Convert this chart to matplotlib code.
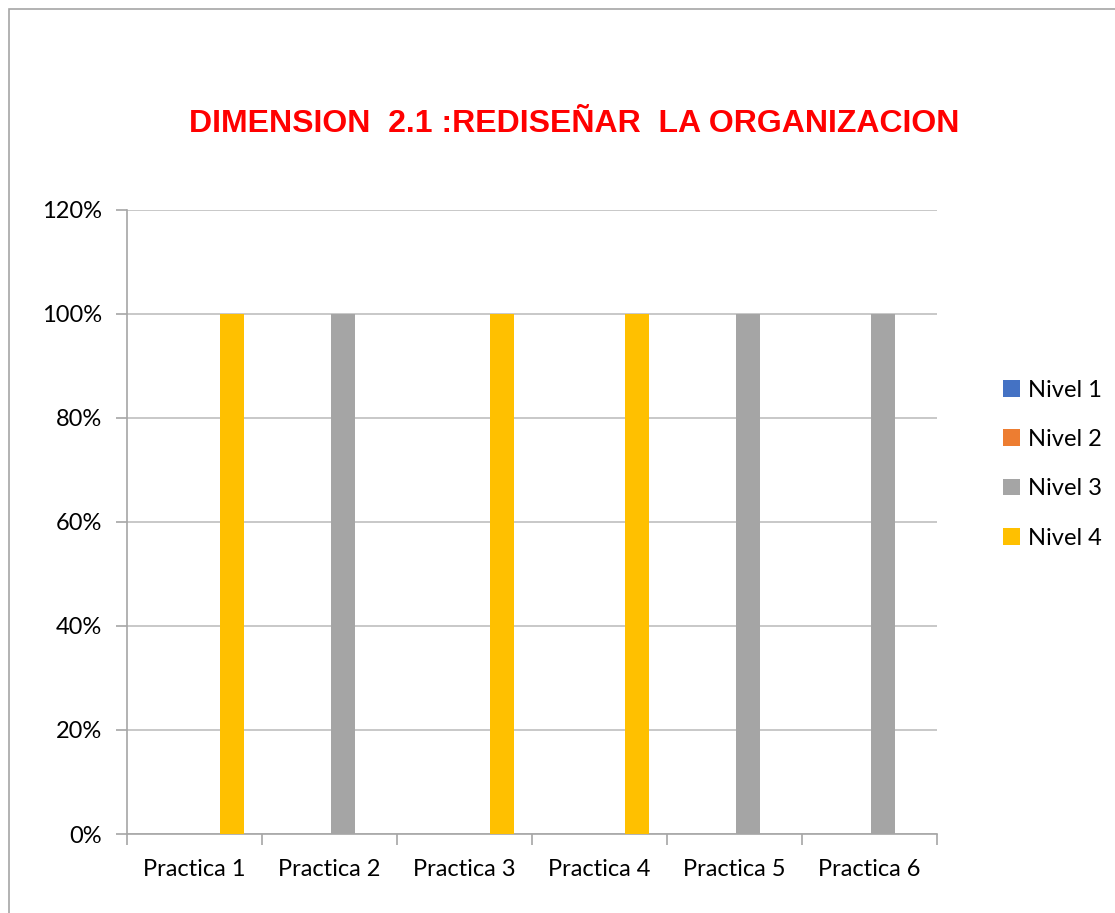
import numpy as np
import matplotlib.pyplot as plt
from matplotlib.patches import Rectangle
from matplotlib.ticker import FixedLocator

categories = ['Practica 1', 'Practica 2', 'Practica 3', 'Practica 4', 'Practica 5', 'Practica 6']
series = ['Nivel 1', 'Nivel 2', 'Nivel 3', 'Nivel 4']
nivel1 = [0, 0, 0, 0, 0, 0]
nivel2 = [0, 0, 0, 0, 0, 0]
nivel3 = [0, 1, 0, 0, 1, 1]
nivel4 = [1, 0, 1, 1, 0, 0]
yticks = [0, 0.2, 0.4, 0.6, 0.8, 1.0, 1.2]
ylabels = ['0%', '20%', '40%', '60%', '80%', '100%', '120%']
colors = ['#4472C4', '#ED7D31', '#A5A5A5', '#FFC000']

plt.rcParams['font.family'] = ['Lato', 'DejaVu Sans']

fig = plt.figure(figsize=(11.15, 9.13), dpi=100)
fig.patches.append(Rectangle((9/1115, -0.1), 1.2, 1 - 9/913 + 0.1, transform=fig.transFigure,
                             fill=False, edgecolor='#A6A6A6', linewidth=1.2))
ax = fig.add_axes([127/1115, 1 - 834/913, 810/1115, 624/913])

x = np.arange(len(categories))
w = 0.178
values = [nivel1, nivel2, nivel3, nivel4]
for i, (name, vals) in enumerate(zip(series, values)):
    ax.bar(x + (i - 1.5) * w + 0.01, vals, w, color=colors[i], label=name, zorder=3)

ax.set_xlim(-0.5, len(categories) - 0.5)
ax.set_ylim(0, 1.2)
ax.set_yticks(yticks)
ax.set_yticklabels(ylabels, fontsize=17)
ax.set_xticks(x)
ax.set_xticklabels(categories, fontsize=17)
ax.xaxis.set_minor_locator(FixedLocator(np.arange(-0.5, len(categories), 1)))
ax.tick_params(axis='x', which='major', length=0, pad=18)
ax.tick_params(axis='x', which='minor', length=8, color='#A6A6A6', width=1.2)
ax.tick_params(axis='y', length=8, color='#A6A6A6', width=1.2, pad=10)
ax.grid(axis='y', color='#BFBFBF', linewidth=1.2, zorder=0)
for s in ['top', 'right']:
    ax.spines[s].set_visible(False)
for s in ['left', 'bottom']:
    ax.spines[s].set_color('#A6A6A6')
    ax.spines[s].set_linewidth(1.2)

fig.text(574/1115, 1 - 124/913, 'DIMENSION  2.1 :REDISEÑAR  LA ORGANIZACION',
         ha='center', va='center', color='#FF0000', fontsize=23, fontweight='bold',
         family=['Liberation Sans', 'DejaVu Sans'])

fig.legend(loc='center left', bbox_to_anchor=(1003/1115, 1 - 464/913), frameon=False,
           fontsize=17, handlelength=0.7, handleheight=0.7, handletextpad=0.35,
           labelspacing=1.2, borderaxespad=0, borderpad=0)

fig.savefig('out.png', dpi=100)
